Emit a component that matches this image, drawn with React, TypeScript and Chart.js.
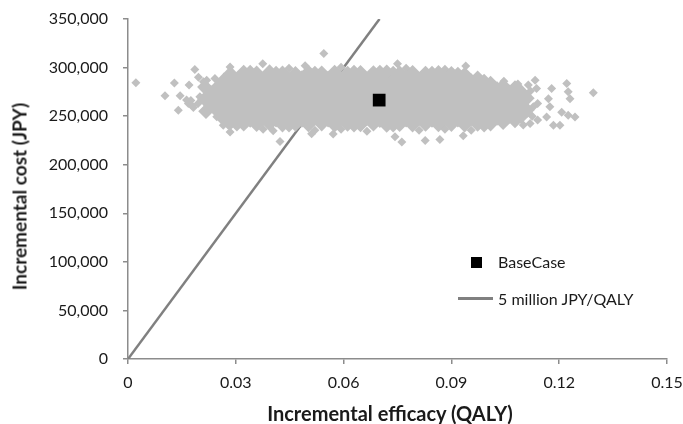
import React, { useEffect, useRef } from 'react';
import { Chart, registerables } from 'chart.js';

Chart.register(...registerables);

// Axis ticks
const xTicks = [0, 0.03, 0.06, 0.09, 0.12, 0.15];
const yTicks = [0, 50000, 100000, 150000, 200000, 250000, 300000, 350000];

// Willingness-to-pay line: 5 million JPY / QALY
const wtpX = [0, 0.07];
const wtpY = [0, 350000];

// Base case result
const baseCase: [number, number][] = [[0.0699, 266500]];

// PSA simulations (incremental QALY, incremental JPY) — dense centre of the cloud
const psaCore: [number, number][] = [
  [0.0340, 281000], [0.0412, 280600], [0.0484, 281200], [0.0557, 280800], [0.0629, 281000],
  [0.0701, 280500], [0.0774, 281100], [0.0846, 280800], [0.0918, 280300], [0.0991, 277600],
  [0.0303, 267400], [0.0376, 267800], [0.0448, 267200], [0.0520, 267600], [0.0593, 267300],
  [0.0665, 267700], [0.0738, 267500], [0.0810, 267200], [0.0882, 267600], [0.0955, 267400],
  [0.1027, 267000],
  [0.0340, 254000], [0.0412, 254300], [0.0484, 253900], [0.0557, 254200], [0.0629, 254100],
  [0.0701, 253800], [0.0774, 254300], [0.0846, 254000], [0.0918, 254200], [0.0991, 254100],
];

// PSA simulations — outer band of the cloud
const psaBand: [number, number][] = [
  [0.0267, 286800], [0.0303, 287200], [0.0340, 286900], [0.0376, 287300], [0.0412, 287000],
  [0.0448, 286700], [0.0484, 287100], [0.0520, 287300], [0.0557, 286900], [0.0593, 287000],
  [0.0629, 287200], [0.0665, 286800], [0.0701, 287100], [0.0738, 287000], [0.0774, 286800],
  [0.0810, 287200], [0.0846, 286900], [0.0882, 287100], [0.0918, 286500], [0.0955, 286000],
  [0.0991, 283000], [0.1027, 278000],
  [0.0285, 293500], [0.0322, 294800], [0.0358, 294000], [0.0394, 295300], [0.0430, 294200],
  [0.0466, 293700], [0.0502, 294900], [0.0539, 294100], [0.0575, 295000], [0.0611, 293900],
  [0.0647, 294600], [0.0683, 294300], [0.0720, 295100], [0.0756, 294000], [0.0792, 294700],
  [0.0828, 293800], [0.0864, 294500], [0.0900, 293600], [0.0937, 292500], [0.0973, 289000],
  [0.1009, 283500],
  [0.0267, 248200], [0.0303, 247800], [0.0340, 248000], [0.0376, 247600], [0.0412, 248100],
  [0.0448, 247900], [0.0484, 247700], [0.0520, 248200], [0.0557, 247800], [0.0593, 248000],
  [0.0629, 247600], [0.0665, 248100], [0.0701, 247900], [0.0738, 247700], [0.0774, 248000],
  [0.0810, 247800], [0.0846, 248200], [0.0882, 247900], [0.0918, 247700], [0.0955, 248000],
  [0.0991, 247800], [0.1027, 248100],
  [0.0285, 243500], [0.0322, 242200], [0.0358, 241600], [0.0394, 242400], [0.0430, 241300],
  [0.0466, 242000], [0.0502, 241500], [0.0539, 242300], [0.0575, 241200], [0.0611, 241900],
  [0.0647, 241400], [0.0683, 242100], [0.0720, 241000], [0.0756, 241700], [0.0792, 241300],
  [0.0828, 242000], [0.0864, 241500], [0.0900, 241800], [0.0937, 241200], [0.0973, 241900],
  [0.1009, 242300],
  [0.0284, 280900], [0.0284, 254100], [0.0267, 273700], [0.0267, 261300], [0.0250, 267500],
  [0.0250, 279900], [0.0250, 255100], [0.0231, 273700], [0.0231, 261300], [0.0214, 267500],
  [0.0214, 279900], [0.0217, 255100],
  [0.1044, 280900], [0.1044, 268500], [0.1044, 256200], [0.1044, 243800],
  [0.1060, 274700], [0.1060, 262300], [0.1060, 250000],
  [0.1077, 279000], [0.1077, 268500], [0.1077, 256200], [0.1077, 245500],
  [0.1094, 274700], [0.1094, 262300], [0.1094, 250000],
  [0.1110, 268500], [0.1110, 256200],
];

// PSA simulations — individual points at the edges and outliers
const psaScatter: [number, number][] = [
  [0.0340, 298400], [0.0412, 297300], [0.0448, 299400], [0.0520, 297300], [0.0593, 300400],
  [0.0629, 298400], [0.0701, 298400], [0.0738, 297300], [0.0774, 299400], [0.0846, 297300],
  [0.0882, 298400], [0.0918, 296300],
  [0.0303, 238700], [0.0376, 236600], [0.0448, 237700], [0.0520, 235600], [0.0593, 236600],
  [0.0629, 237700], [0.0665, 234500], [0.0738, 237700], [0.0810, 235600], [0.0882, 236600],
  [0.0955, 235600], [0.0991, 237700],
  [0.0022, 284300], [0.0103, 270900], [0.0129, 284000], [0.0140, 256000], [0.0145, 271000],
  [0.0163, 266600], [0.0168, 263000], [0.0170, 282000], [0.0177, 261300], [0.0182, 259000],
  [0.0175, 266000], [0.0195, 263000], [0.0200, 270000],
  [0.0186, 298000], [0.0196, 290000], [0.0210, 285300], [0.0219, 287000], [0.0242, 288800],
  [0.0247, 249300], [0.0261, 245900], [0.0265, 240700], [0.0279, 240700], [0.0284, 233800],
  [0.0284, 300700], [0.0298, 242000],
  [0.0375, 304000], [0.0493, 302000], [0.0545, 314500], [0.0750, 304000], [0.0940, 301700],
  [0.0423, 224000], [0.0404, 235000], [0.0511, 232000], [0.0571, 231500], [0.0743, 228700],
  [0.0762, 223500], [0.0827, 225000], [0.0868, 226000], [0.0933, 229700],
  [0.1046, 286000], [0.1085, 283000], [0.1120, 276000], [0.1125, 250000], [0.1100, 241000],
  [0.1128, 259600],
  [0.1133, 287000], [0.1114, 282000], [0.1137, 278500], [0.1179, 278500], [0.1221, 283600],
  [0.1225, 275000], [0.1230, 268000], [0.1170, 268000], [0.1174, 259600], [0.1140, 263000],
  [0.1165, 249000], [0.1207, 254000], [0.1225, 251000], [0.1244, 249000], [0.1184, 240700],
  [0.1202, 240700], [0.1295, 274000], [0.1140, 246000], [0.1119, 242500],
];

const FONT = 'Lato, "Open Sans", sans-serif';
const TEXT = '#1a1a1a';
const CLOUD = '#c0c0c0';
const AXIS = '#8c8c8c';

const toPts = (a: [number, number][]) => a.map(([x, y]) => ({ x, y }));

export default function App() {
  const ref = useRef<HTMLCanvasElement>(null);

  useEffect(() => {
    if (!ref.current) return;
    const cloudStyle = {
      pointStyle: 'rectRot' as const,
      backgroundColor: CLOUD,
      borderColor: CLOUD,
      borderWidth: 0,
      order: 2,
    };
    const chart = new Chart(ref.current, {
      type: 'scatter',
      data: {
        datasets: [
          {
            label: '5 million JPY/QALY',
            type: 'line',
            data: wtpX.map((x, i) => ({ x, y: wtpY[i] })),
            borderColor: '#808080',
            borderWidth: 2.5,
            pointRadius: 0,
            fill: false,
            tension: 0,
            order: 3,
          } as any,
          { label: 'PSA', data: toPts(psaCore), pointRadius: 15.5, ...cloudStyle },
          { label: 'PSA', data: toPts(psaBand), pointRadius: 7.8, ...cloudStyle },
          { label: 'PSA', data: toPts(psaScatter), pointRadius: 4.5, ...cloudStyle },
          {
            label: 'BaseCase',
            data: toPts(baseCase),
            pointStyle: 'rect',
            pointRadius: 9,
            backgroundColor: '#000000',
            borderWidth: 0,
            order: 1,
          },
        ],
      },
      options: {
        animation: false,
        responsive: true,
        maintainAspectRatio: false,
        events: [],
        layout: { padding: { top: 19, right: 16, bottom: 0, left: 0 } },
        plugins: { legend: { display: false }, tooltip: { enabled: false } },
        scales: {
          x: {
            type: 'linear',
            min: xTicks[0],
            max: xTicks[xTicks.length - 1],
            afterBuildTicks: (s: any) => { s.ticks = xTicks.map((v) => ({ value: v })); },
            afterFit: (s: any) => { s.height = 65; s.paddingLeft = 0; s.paddingRight = 0; },
            ticks: {
              padding: 9,
              color: TEXT,
              font: { family: FONT, size: 16 },
              callback: (v: any) => (Number(v) === 0 ? '0' : Number(v).toFixed(2)),
            },
            grid: { drawOnChartArea: false, drawTicks: true, tickLength: 5, color: AXIS, lineWidth: 1.5 },
            border: { display: true, color: AXIS, width: 1.5 },
          },
          y: {
            type: 'linear',
            min: yTicks[0],
            max: yTicks[yTicks.length - 1],
            afterBuildTicks: (s: any) => { s.ticks = yTicks.map((v) => ({ value: v })); },
            afterFit: (s: any) => { s.width = 128; s.paddingTop = 0; s.paddingBottom = 0; },
            ticks: {
              padding: 15,
              color: TEXT,
              font: { family: FONT, size: 16 },
              callback: (v: any) => Number(v).toLocaleString('en-US'),
            },
            grid: { drawOnChartArea: false, drawTicks: true, tickLength: 5, color: AXIS, lineWidth: 1.5 },
            border: { display: true, color: AXIS, width: 1.5 },
          },
        },
      },
    });
    return () => chart.destroy();
  }, []);

  const labelStyle: React.CSSProperties = {
    position: 'absolute',
    fontFamily: FONT,
    color: TEXT,
    whiteSpace: 'nowrap',
  };

  return (
    <div style={{ position: 'absolute', left: 0, top: 0, width: 683, height: 424, background: '#fff', fontFamily: FONT }}>
      <canvas ref={ref} />
      <div
        style={{
          ...labelStyle,
          left: 18.6 - 140,
          top: 196 - 11.5,
          width: 280,
          height: 23,
          lineHeight: '23px',
          fontSize: 19,
          fontWeight: 700,
          textAlign: 'center',
          transform: 'rotate(-90deg)',
        }}
      >
        Incremental cost (JPY)
      </div>
      <div
        style={{
          ...labelStyle,
          left: 390 - 160,
          top: 401,
          width: 320,
          height: 24,
          lineHeight: '24px',
          fontSize: 20,
          fontWeight: 700,
          textAlign: 'center',
        }}
      >
        Incremental efficacy (QALY)
      </div>
      <div style={{ position: 'absolute', left: 471, top: 257, width: 11, height: 11, background: '#000' }} />
      <div style={{ ...labelStyle, left: 498, top: 252, fontSize: 16, lineHeight: '20px' }}>BaseCase</div>
      <div style={{ position: 'absolute', left: 458, top: 297, width: 35, height: 2.5, background: '#808080' }} />
      <div style={{ ...labelStyle, left: 498, top: 289, fontSize: 16, lineHeight: '20px' }}>5 million JPY/QALY</div>
    </div>
  );
}
